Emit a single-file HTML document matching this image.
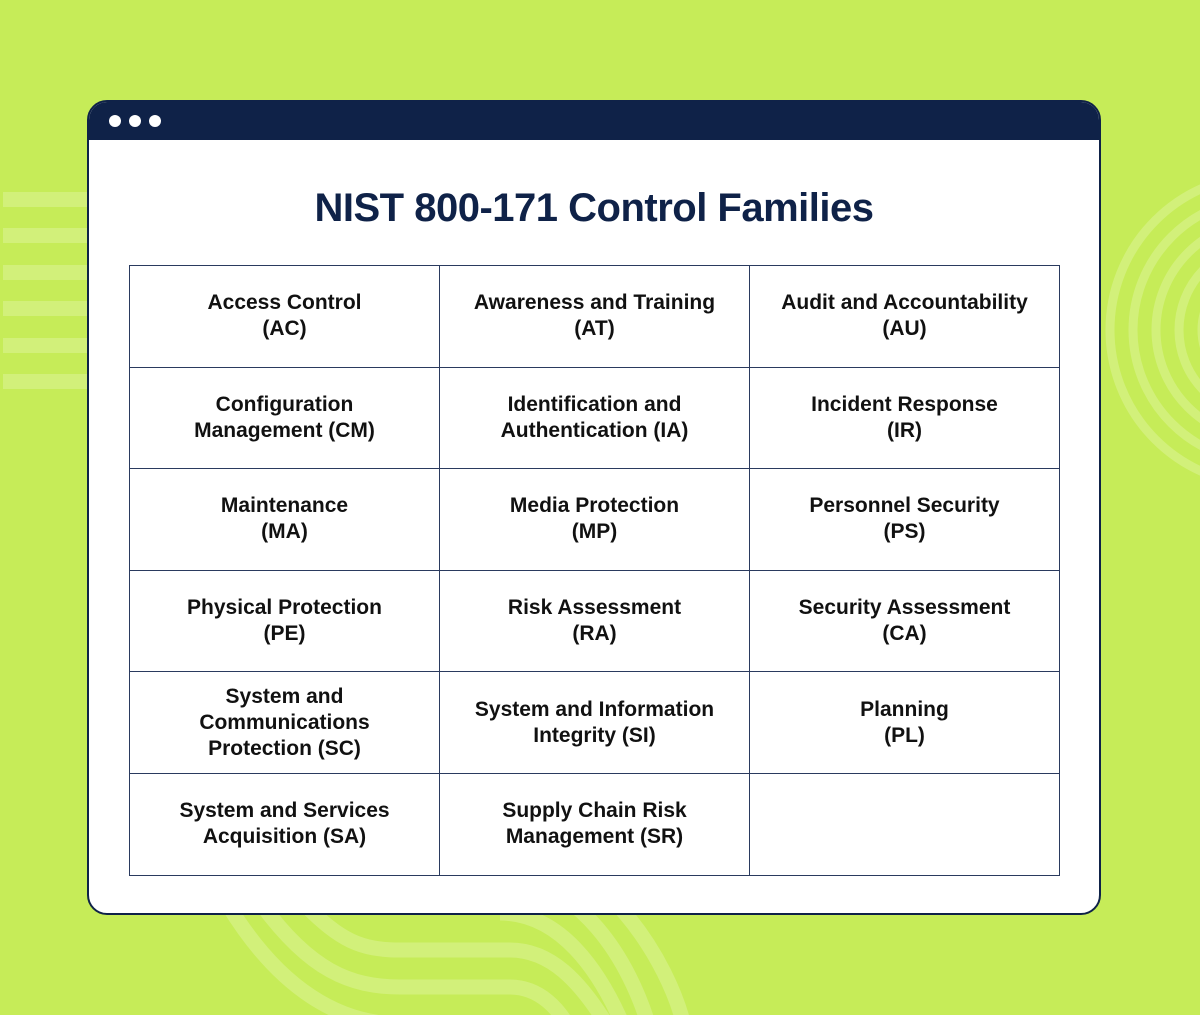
<!DOCTYPE html>
<html><head><style>
html,body{margin:0;padding:0}
body{width:1200px;height:1015px;background:#c6ec58;position:relative;overflow:hidden;font-family:"Liberation Sans",sans-serif}
.win{position:absolute;left:87px;top:100px;width:1010px;height:811px;border:2px solid #0f2248;border-radius:20px;background:#fff;overflow:hidden}
.hdr{height:38px;background:#0f2248;position:relative}
.dot{position:absolute;top:13px;width:12px;height:12px;border-radius:50%;background:#fff}
h1{position:absolute;left:0;right:0;top:84px;margin:0;text-align:center;font-size:40px;font-weight:bold;color:#0f2248;letter-spacing:-0.5px}
table{position:absolute;left:40px;top:163px;border-collapse:collapse}
td{border:1px solid #2a3a5e;width:310px;height:101.6px;text-align:center;vertical-align:middle;font-size:21px;font-weight:bold;color:#111;line-height:26px;padding:0;box-sizing:border-box}
</style></head><body>
<svg width="1200" height="1015" style="position:absolute;left:0;top:0">
<g fill="#d2f07a">
<rect x="3" y="192" width="84" height="15"/><rect x="3" y="228" width="84" height="15"/><rect x="3" y="265" width="84" height="15"/><rect x="3" y="301" width="84" height="15"/><rect x="3" y="338" width="84" height="15"/><rect x="3" y="374" width="84" height="15"/>
</g>
<g fill="none" stroke="#d2f07a" stroke-width="9">
<circle cx="1265" cy="330" r="63"/><circle cx="1265" cy="330" r="86"/><circle cx="1265" cy="330" r="109"/><circle cx="1265" cy="330" r="132"/><circle cx="1265" cy="330" r="155"/>
</g>
<g fill="none" stroke="#d2f07a" stroke-width="15">
<path d="M305,905 C340,940 360,950 400,950 L510,950 C550,950 580,980 610,1030"/>
<path d="M262,905 C310,970 350,987 400,987 L510,987 C540,987 560,1010 570,1030"/>
<path d="M228,905 C280,990 340,1024 400,1024"/>
<path d="M500,913 C560,913 600,970 625,1030"/>
<path d="M500,876 C580,880 630,960 650,1030"/>
<path d="M500,840 C600,850 670,960 685,1030"/>
</g>
</svg>
<div class="win">
<div class="hdr"><div class="dot" style="left:20px"></div><div class="dot" style="left:40px"></div><div class="dot" style="left:60px"></div></div>
<h1>NIST 800-171 Control Families</h1>
<table>
<tr><td>Access Control<br>(AC)</td><td>Awareness and Training<br>(AT)</td><td>Audit and Accountability<br>(AU)</td></tr>
<tr><td>Configuration<br>Management (CM)</td><td>Identification and<br>Authentication (IA)</td><td>Incident Response<br>(IR)</td></tr>
<tr><td>Maintenance<br>(MA)</td><td>Media Protection<br>(MP)</td><td>Personnel Security<br>(PS)</td></tr>
<tr><td>Physical Protection<br>(PE)</td><td>Risk Assessment<br>(RA)</td><td>Security Assessment<br>(CA)</td></tr>
<tr><td>System and<br>Communications<br>Protection (SC)</td><td>System and Information<br>Integrity (SI)</td><td>Planning<br>(PL)</td></tr>
<tr><td>System and Services<br>Acquisition (SA)</td><td>Supply Chain Risk<br>Management (SR)</td><td></td></tr>
</table>
</div>
</body></html>
